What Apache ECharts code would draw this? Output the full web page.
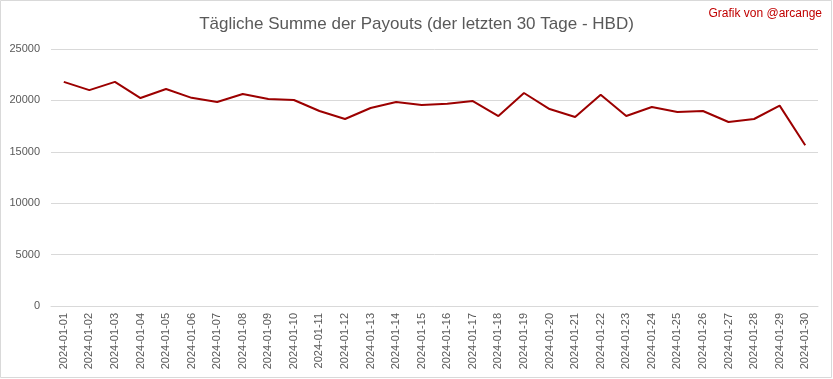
<!DOCTYPE html>
<html>
<head>
<meta charset="utf-8">
<script src="https://cdn.jsdelivr.net/npm/echarts@6/dist/echarts.min.js"></script>
<style>
html,body{margin:0;padding:0;background:#fff;}
#chart{width:833px;height:379px;}
</style>
</head>
<body>
<div id="chart"></div>
<script>
var titleText = 'Tägliche Summe der Payouts (der letzten 30 Tage - HBD)';
var creditText = 'Grafik von @arcange';
var dates = ['2024-01-01','2024-01-02','2024-01-03','2024-01-04','2024-01-05','2024-01-06','2024-01-07','2024-01-08','2024-01-09','2024-01-10',
'2024-01-11','2024-01-12','2024-01-13','2024-01-14','2024-01-15','2024-01-16','2024-01-17','2024-01-18','2024-01-19','2024-01-20',
'2024-01-21','2024-01-22','2024-01-23','2024-01-24','2024-01-25','2024-01-26','2024-01-27','2024-01-28','2024-01-29','2024-01-30'];
var payouts = [21800,21000,21800,20230,21110,20250,19850,20620,20140,20040,
18970,18190,19260,19850,19550,19680,19940,18480,20720,19160,
18390,20560,18480,19360,18870,18970,17900,18190,19490,15630];
var yTicks = {min:0, max:25000, interval:5000};

var chart = echarts.init(document.getElementById('chart'), null, {renderer:'canvas'});
chart.setOption({
  backgroundColor:'#ffffff',
  animation:false,
  title:{
    text:titleText,
    left:'center',
    top:11,
    textStyle:{fontFamily:'Liberation Sans',fontSize:17,fontWeight:'normal',color:'#595959'}
  },
  graphic:[
    {type:'rect',shape:{x:0.5,y:0.5,width:831,height:377},style:{fill:'none',stroke:'#d9d9d9',lineWidth:1},silent:true},
    {type:'text',right:11,top:8,style:{text:creditText,fill:'#c00000',font:'12px "Liberation Sans"'}}
  ],
  grid:{left:51,right:15,top:49,bottom:73,containLabel:false},
  xAxis:{
    type:'category',
    data:dates,
    boundaryGap:true,
    axisLine:{lineStyle:{color:'#d9d9d9'}},
    axisTick:{show:false},
    axisLabel:{rotate:90,interval:0,margin:7,color:'#595959',fontSize:11,fontFamily:'Liberation Sans'}
  },
  yAxis:{
    type:'value',
    min:yTicks.min,max:yTicks.max,interval:yTicks.interval,
    axisLine:{show:false},
    axisTick:{show:false},
    splitLine:{lineStyle:{color:'#d9d9d9'}},
    axisLabel:{margin:11,color:'#595959',fontSize:11,fontFamily:'Liberation Sans',formatter:function(v){return String(v);}}
  },
  series:[{
    type:'line',
    data:payouts,
    symbol:'none',
    lineStyle:{color:'#9c0000',width:2},
    itemStyle:{color:'#9c0000'}
  }]
});
</script>
</body>
</html>
